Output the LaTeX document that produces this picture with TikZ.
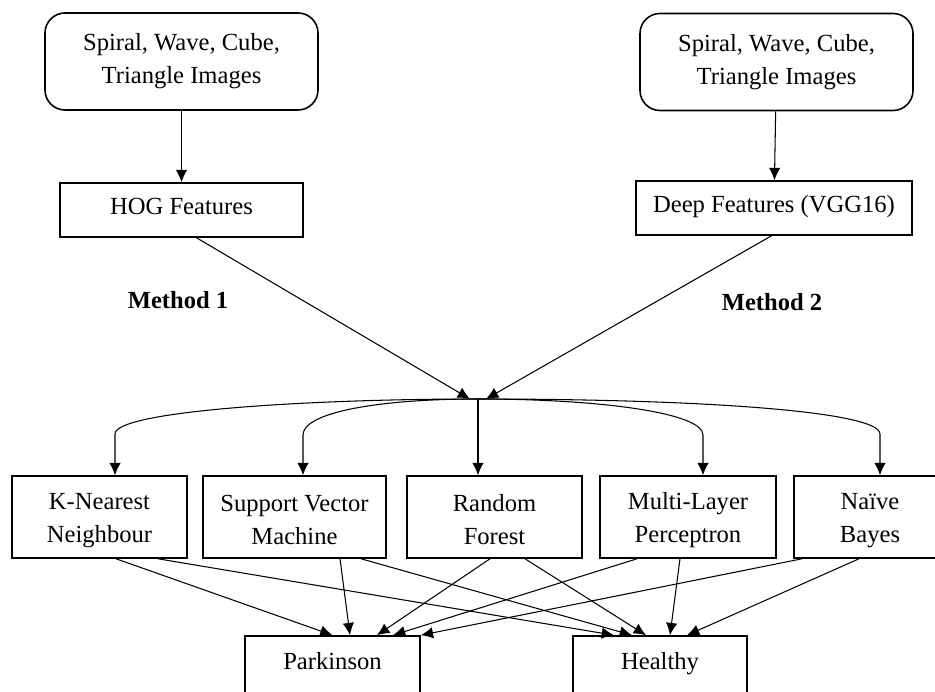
\documentclass[tikz,border=0pt]{standalone}
\usepackage{fontspec}
\setmainfont{Liberation Serif}
\usetikzlibrary{arrows.meta}

\tikzset{
  srcbox/.style={draw, line width=0.9pt, rounded corners=0.4cm, align=center, minimum width=5.46cm, minimum height=1.94cm, inner sep=0pt},
  featbox/.style={draw, line width=0.9pt, align=center, minimum height=1.08cm, inner sep=0pt, text height=1.6ex, text depth=0.5ex},
  clsbox/.style={draw, line width=0.9pt, align=center, minimum height=1.64cm, inner sep=0pt},
  outbox/.style={draw, line width=0.9pt, align=center, minimum height=1.16cm, inner sep=0pt, text height=1.6ex, text depth=0.5ex},
  arr/.style={line width=0.6pt, -{Latex[length=7pt,width=6.5pt]}}
}

\begin{document}
\begin{tikzpicture}[font=\fontsize{14}{18.8}\selectfont]

\useasboundingbox (0,0) rectangle (18.7,-13.84);

% inputs
\node[srcbox] (img1) at (3.63,-1.23) {Spiral, Wave, Cube,\\Triangle Images};
\node[srcbox] (img2) at (15.53,-1.24) {Spiral, Wave, Cube,\\Triangle Images};

% features
\node[featbox, minimum width=4.86cm] (hog) at (3.63,-4.2) {HOG Features};
\node[featbox, minimum width=5.52cm] (deep) at (15.48,-4.16) {Deep Features (VGG16)};

\node (m1) at (3.56,-6.0) {\bfseries Method 1};
\node (m2) at (15.44,-6.04) {\bfseries Method 2};

\coordinate (hub) at (9.56,-7.98);

% classifiers
\node[clsbox, minimum width=3.5cm] (knn) at (1.99,-10.34) {\strut K-Nearest\\Neighbour};
\node[clsbox, minimum width=3.66cm] (svm) at (5.89,-10.34) {\strut Support Vector\\Machine};
\node[clsbox, minimum width=3.5cm] (rf) at (9.89,-10.34) {\strut Random\\Forest};
\node[clsbox, minimum width=3.52cm] (mlp) at (13.76,-10.34) {\strut Multi-Layer\\Perceptron};
\node[clsbox, minimum width=3.04cm] (nb) at (17.4,-10.34) {\strut Naïve\\Bayes};

% outputs
\node[outbox, minimum width=3.5cm] (park) at (6.65,-13.3) {Parkinson};
\node[outbox, minimum width=3.48cm] (heal) at (13.2,-13.3) {Healthy};

\draw[arr] (img1) -- (hog);
\draw[arr] (img2) -- (deep);
\draw[arr] ([xshift=0.3cm]hog.south) -- ([xshift=-0.16cm]hub);
\draw[arr] ([xshift=-0.05cm]deep.south) -- ([xshift=0.16cm]hub);

% bends above the classifiers
\coordinate (b1) at (2.30,-8.68);
\coordinate (b2) at (6.06,-8.7);
\coordinate (b4) at (14.06,-8.7);
\coordinate (b5) at (17.6,-8.68);

\draw[arr] (hub) .. controls +(-3.5,0) and +(0,0.45) .. (b1) -- (b1 |- knn.north);
\draw[arr] (hub) .. controls +(-2,0) and +(0,0.45) .. (b2) -- (b2 |- svm.north);
\draw[arr] (hub) -- (hub |- rf.north);
\draw[arr] (hub) .. controls +(2.4,0) and +(0,0.45) .. (b4) -- (b4 |- mlp.north);
\draw[arr] (hub) .. controls +(4.5,0) and +(0,0.45) .. (b5) -- (b5 |- nb.north);

\draw[arr] ([xshift=0.33cm]knn.south) -- ([xshift=0cm]park.north);
\draw[arr] ([xshift=1.17cm]knn.south) -- ([xshift=-0.92cm]heal.north);
\draw[arr] ([xshift=0.91cm]svm.south) -- ([xshift=0.35cm]park.north);
\draw[arr] ([xshift=1.33cm]svm.south) -- ([xshift=-0.56cm]heal.north);
\draw[arr] ([xshift=-0.09cm]rf.south) -- ([xshift=0.89cm]park.north);
\draw[arr] ([xshift=0.61cm]rf.south) -- ([xshift=-0.28cm]heal.north);
\draw[arr] ([xshift=-1.02cm]mlp.south) -- ([xshift=1.21cm]park.north);
\draw[arr] ([xshift=-0.16cm]mlp.south) -- ([xshift=0.2cm]heal.north);
\draw[arr] ([xshift=-1.36cm]nb.south) -- (park.north east);
\draw[arr] ([xshift=-0.22cm]nb.south) -- ([xshift=0.54cm]heal.north);

\end{tikzpicture}
\end{document}
